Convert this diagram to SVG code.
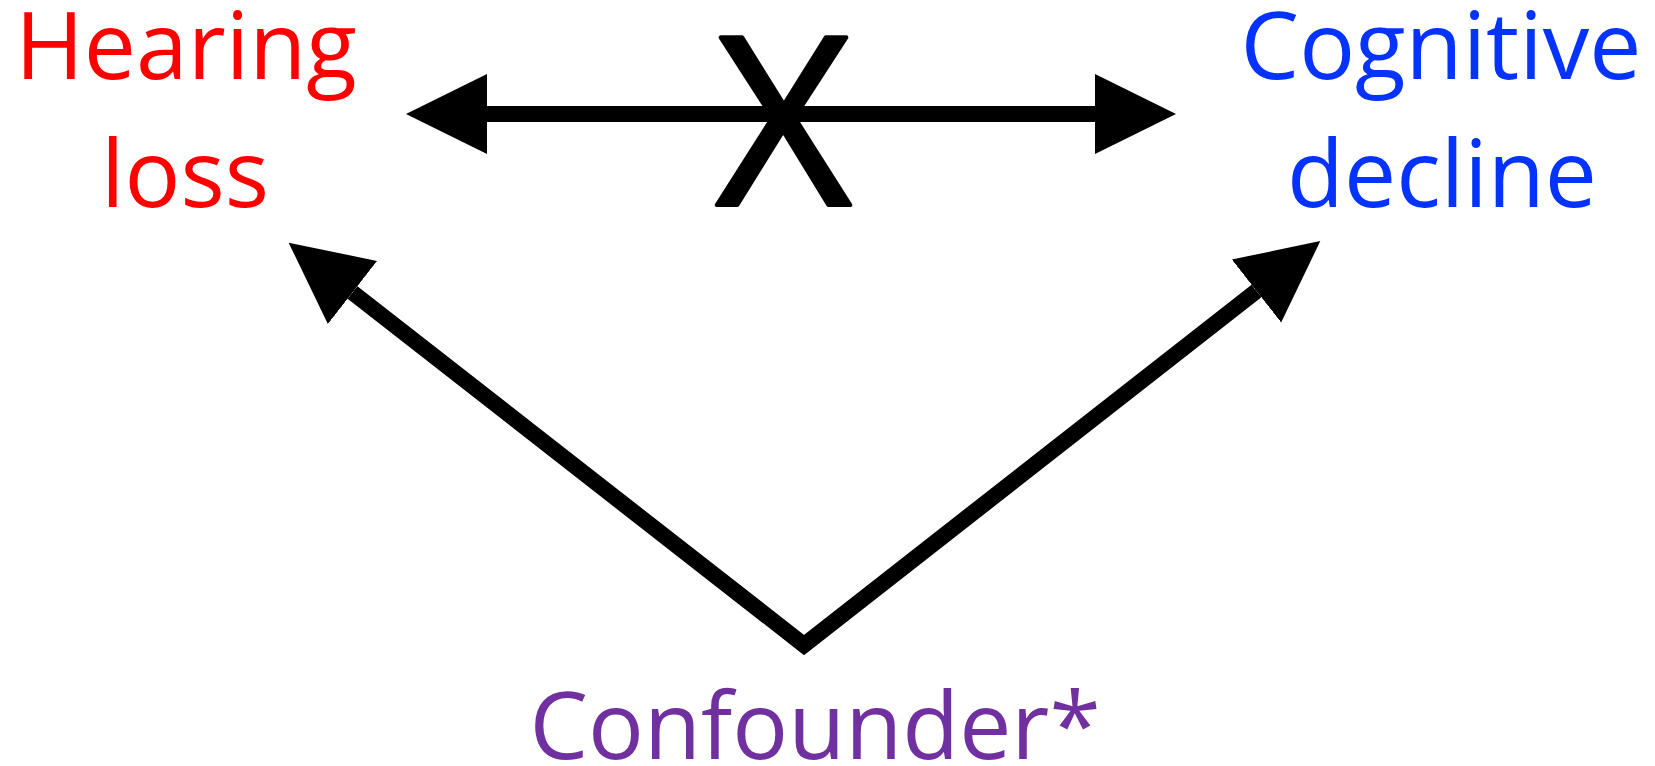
<svg xmlns="http://www.w3.org/2000/svg" width="1655" height="766" viewBox="0 0 1655 766">
  <style>
    .label { font-family: "Open Sans", "Noto Sans", "Liberation Sans", sans-serif; font-size: 93px; text-anchor: middle; }
    .hearing { fill: #FF0000; }
    .cognitive { fill: #0433FF; }
    .confounder { fill: #7030A0; }
    .edge { fill: none; stroke: #000000; stroke-width: 16; stroke-linejoin: miter; stroke-linecap: butt; }
    .cross { font-family: "Open Sans", "Noto Sans", "Liberation Sans", sans-serif; font-size: 234px; text-anchor: middle; fill: #000000; stroke: #000000; stroke-width: 4; stroke-linejoin: round; }
  </style>
  <defs>
    <!-- filled triangular head; placed at the end of the shaft, tip 81 units ahead -->
    <marker id="head" markerUnits="userSpaceOnUse" viewBox="0 -41 82 82" refX="0" refY="0" markerWidth="82" markerHeight="82" orient="auto-start-reverse">
      <path d="M0,-40 L81,0 L0,40 Z" fill="#000000"/>
    </marker>
  </defs>

  <rect width="1655" height="766" fill="#FFFFFF"/>

  <g id="connectors">
    <!-- two-headed link between the top nodes, crossed out -->
    <path class="edge" d="M487,114 L1095,114" marker-start="url(#head)" marker-end="url(#head)"/>
    <text class="cross" x="783.5" y="205">X</text>
    <!-- confounder pointing to both top nodes -->
    <path class="edge" d="M352.5,292.5 L804,645 L1256.5,291" marker-start="url(#head)" marker-end="url(#head)"/>
  </g>

  <g id="node-hearing-loss">
    <text class="label hearing" x="186" y="79">Hearing</text>
    <text class="label hearing" x="185" y="207">loss</text>
  </g>

  <g id="node-cognitive-decline">
    <text class="label cognitive" x="1441" y="79">Cognitive</text>
    <text class="label cognitive" x="1442" y="207">decline</text>
  </g>

  <g id="node-confounder">
    <text class="label confounder" x="815" y="759">Confounder*</text>
  </g>
</svg>
